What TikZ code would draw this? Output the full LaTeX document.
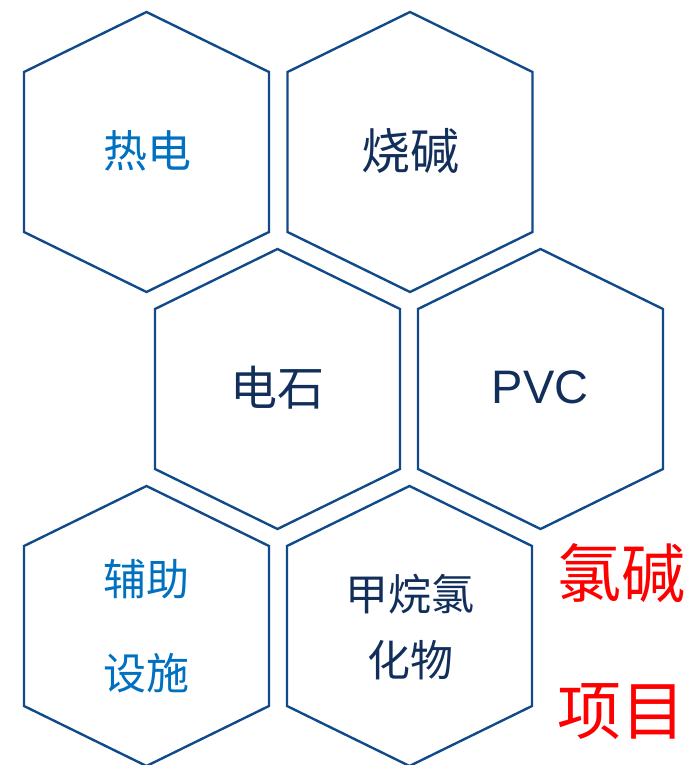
\documentclass[tikz,border=0pt]{standalone}
\usepackage{fontspec}
\newfontfamily\cjk{Noto Sans CJK SC}
\newfontfamily\latinsans{Liberation Sans}
\definecolor{hexline}{HTML}{114A8B}
\definecolor{lightblue}{HTML}{0070C0}
\definecolor{navy}{HTML}{112F5A}
\definecolor{redtxt}{HTML}{FF0000}
\tikzset{
  hexbox/.style={draw=hexline, line width=2.4pt, line join=miter},
  lbl/.style={inner sep=0pt, anchor=center},
}
\newcommand{\hexat}[2]{%
  \draw[hexbox] (#1,#2-140) -- (#1+122.5,#2-80) -- (#1+122.5,#2+80) -- (#1,#2+140)
    -- (#1-122.5,#2+80) -- (#1-122.5,#2-80) -- cycle;}
\begin{document}
\begin{tikzpicture}[x=1pt,y=-1pt]
\useasboundingbox (0,0) rectangle (687,765);
\hexat{146.5}{152}
\hexat{410}{152}
\hexat{277.5}{389}
\hexat{540.5}{389}
\hexat{146.5}{626}
\hexat{409.5}{626}
\node[lbl, text=lightblue, font={\cjk\fontsize{44}{50}\selectfont}] (re) at (147,151) {热电};
\node[lbl, text=navy, font={\cjk\fontsize{49}{55}\selectfont}] (sj) at (410,151) {烧碱};
\node[lbl, text=navy, font={\cjk\fontsize{47}{53}\selectfont}] (ds) at (277,388) {电石};
\node[lbl, text=navy, font={\latinsans\fontsize{47}{52}\selectfont}] (pvc) at (540,387) {PVC};
\node[lbl, text=lightblue, font={\cjk\fontsize{43}{50}\selectfont}] (fz) at (146,579) {辅助};
\node[lbl, text=lightblue, font={\cjk\fontsize{43}{50}\selectfont}] (ss) at (146,673) {设施};
\node[lbl, text=navy, font={\cjk\fontsize{43}{50}\selectfont}] (jw) at (410,594) {甲烷氯};
\node[lbl, text=navy, font={\cjk\fontsize{43}{50}\selectfont}] (hw) at (410,660) {化物};
\node[lbl, text=redtxt, font={\cjk\fontsize{64}{70}\selectfont}] (lj) at (621,573) {氯碱};
\node[lbl, text=redtxt, font={\cjk\fontsize{64}{70}\selectfont}] (xm) at (621,712) {项目};
\end{tikzpicture}
\end{document}
